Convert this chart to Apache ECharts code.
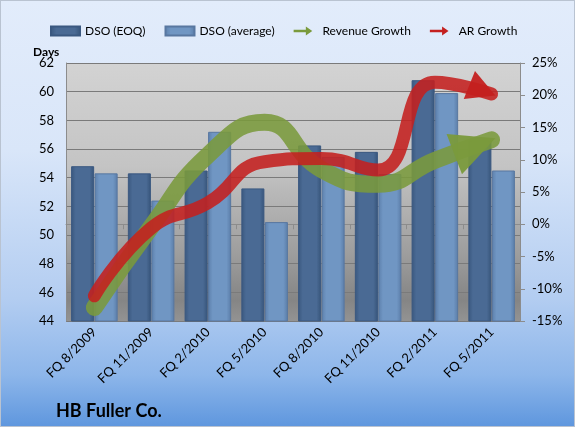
<!DOCTYPE html>
<html>
<head>
<meta charset="utf-8">
<script src="https://cdn.jsdelivr.net/npm/echarts@6/dist/echarts.min.js"></script>
<style>
  html, body { margin: 0; padding: 0; }
  #chart {
    width: 575px;
    height: 427px;
    box-sizing: border-box;
    border: 1px solid #b9c3d1;
    background: linear-gradient(to bottom, #e2ecfb 0%, #d9e6f9 35%, #b3cdf1 70%, #8db6ea 88%, #5f97de 100%);
  }
</style>
</head>
<body>
<div id="chart"></div>
<script>
const categories = ['FQ 8/2009', 'FQ 11/2009', 'FQ 2/2010', 'FQ 5/2010', 'FQ 8/2010', 'FQ 11/2010', 'FQ 2/2011', 'FQ 5/2011'];
const dsoEoq = [54.8, 54.3, 54.5, 53.25, 56.25, 55.8, 60.8, 56.6];
const dsoAvg = [54.3, 52.4, 57.2, 50.9, 55.45, 54.25, 59.9, 54.5];
const revenueGrowth = [-12.9, -0.4, 10.7, 15.8, 8.5, 6.2, 9.9, 13.1];
const arGrowth = [-11.1, -0.6, 3.3, 9.7, 10.2, 8.4, 22.0, 20.2];
const daysTicks = [44, 62, 2];
const growthTicks = [-15, 25, 5];

const font = 'Lato, "Noto Sans", sans-serif';

// right-pointing head, rotated to follow the curve (angle: degrees above horizontal)
const headPath = 'path://M0,0 L28,15 L0,30 Z';

function withArrow (values, angle, len, base, color) {
  const rad = angle * Math.PI / 180;
  const push = 4 - len / 2;
  return values.map(function (v, i) {
    if (i < values.length - 1) return v;
    return {
      value: v,
      symbol: headPath,
      symbolSize: [len, base],
      symbolRotate: angle,
      symbolOffset: [Math.cos(rad) * push, -Math.sin(rad) * push],
      itemStyle: { color: color, opacity: 0.95 }
    };
  });
}

const arrowIcon = 'path://M0,5 L19,5 L19,0 L29,7 L19,14 L19,9 L0,9 Z';

function barGradient (a, b, c) {
  return new echarts.graphic.LinearGradient(0, 0, 1, 0, [
    { offset: 0, color: a },
    { offset: 0.2, color: b },
    { offset: 0.8, color: b },
    { offset: 1, color: c }
  ]);
}

let myChart = echarts.init(document.getElementById('chart'));
let option = {
  animation: false,
  textStyle: { fontFamily: font },
  title: [
    {
      text: 'HB Fuller Co.',
      left: 50,
      top: 396,
      textStyle: { fontSize: 18, fontWeight: 'bold', color: '#000', fontFamily: font }
    },
    {
      text: 'Days',
      left: 27,
      top: 40,
      textStyle: { fontSize: 12, fontWeight: 'bold', color: '#000', fontFamily: font }
    }
  ],
  legend: {
    left: 44,
    top: 19,
    itemWidth: 29,
    itemHeight: 9,
    itemGap: 19,
    textStyle: { fontSize: 12, color: '#000', fontFamily: font },
    data: [
      { name: 'DSO (EOQ)', icon: 'rect' },
      { name: 'DSO (average)', icon: 'rect' },
      { name: 'Revenue Growth', icon: arrowIcon },
      { name: 'AR Growth', icon: arrowIcon }
    ]
  },
  grid: {
    left: 65,
    right: 54,
    top: 62,
    bottom: 105,
    show: true,
    borderWidth: 0,
    backgroundColor: new echarts.graphic.LinearGradient(0, 0, 0, 1, [
      { offset: 0, color: '#d3d3d3' },
      { offset: 0.4, color: '#c4c4c4' },
      { offset: 0.75, color: '#9c9c9c' },
      { offset: 0.92, color: '#858585' },
      { offset: 1, color: '#939393' }
    ])
  },
  xAxis: {
    type: 'category',
    data: categories,
    axisLine: { lineStyle: { color: '#8c8c8c', width: 1 } },
    axisTick: { show: true, length: 5, lineStyle: { color: '#8c8c8c' } },
    axisLabel: { rotate: 45, fontSize: 13, color: '#000', margin: 9, fontFamily: font }
  },
  yAxis: [
    {
      type: 'value',
      min: daysTicks[0],
      max: daysTicks[1],
      interval: daysTicks[2],
      axisLine: { show: true, lineStyle: { color: '#8c8c8c' } },
      axisTick: { show: false },
      axisLabel: { fontSize: 13, color: '#000', margin: 12, fontFamily: font },
      splitLine: { show: true, lineStyle: { color: '#7a7a7a', width: 1 } }
    },
    {
      type: 'value',
      min: growthTicks[0],
      max: growthTicks[1],
      interval: growthTicks[2],
      position: 'right',
      axisLine: { show: true, lineStyle: { color: '#8c8c8c' } },
      axisTick: { show: true, length: 5, lineStyle: { color: '#8c8c8c' } },
      axisLabel: { fontSize: 13, color: '#000', margin: 12, fontFamily: font, formatter: '{value}%' },
      splitLine: { show: false }
    }
  ],
  series: [
    {
      name: 'DSO (EOQ)',
      type: 'bar',
      yAxisIndex: 0,
      barGap: '2%',
      barCategoryGap: '18%',
      data: dsoEoq,
      itemStyle: {
        color: barGradient('#39577e', '#4a6a94', '#365479'),
        borderColor: '#3a5880',
        borderWidth: 1
      }
    },
    {
      name: 'DSO (average)',
      type: 'bar',
      yAxisIndex: 0,
      data: dsoAvg,
      itemStyle: {
        color: barGradient('#5c7fab', '#7096c3', '#5a7ca7'),
        borderColor: '#5877a0',
        borderWidth: 1
      }
    },
    {
      name: 'Revenue Growth',
      type: 'line',
      yAxisIndex: 1,
      smooth: 0.5,
      symbol: 'none',
      showSymbol: true,
      showAllSymbol: true,
      color: '#7a9a3c',
      itemStyle: { color: '#7a9a3c' },
      lineStyle: { width: 17, color: '#7a9a3c', opacity: 0.88, cap: 'round' },
      z: 3,
      data: withArrow(revenueGrowth, 21, 44, 43, '#7a9a3c')
    },
    {
      name: 'AR Growth',
      type: 'line',
      yAxisIndex: 1,
      smooth: 0.5,
      symbol: 'none',
      showSymbol: true,
      showAllSymbol: true,
      color: '#c4201f',
      itemStyle: { color: '#c4201f' },
      lineStyle: { width: 13, color: '#c4201f', opacity: 0.88, cap: 'round' },
      z: 4,
      data: withArrow(arGrowth, -22, 28, 30, '#c4201f')
    }
  ]
};
myChart.setOption(option);
window.addEventListener('resize', function () { myChart.resize() })
</script>
</body>
</html>
